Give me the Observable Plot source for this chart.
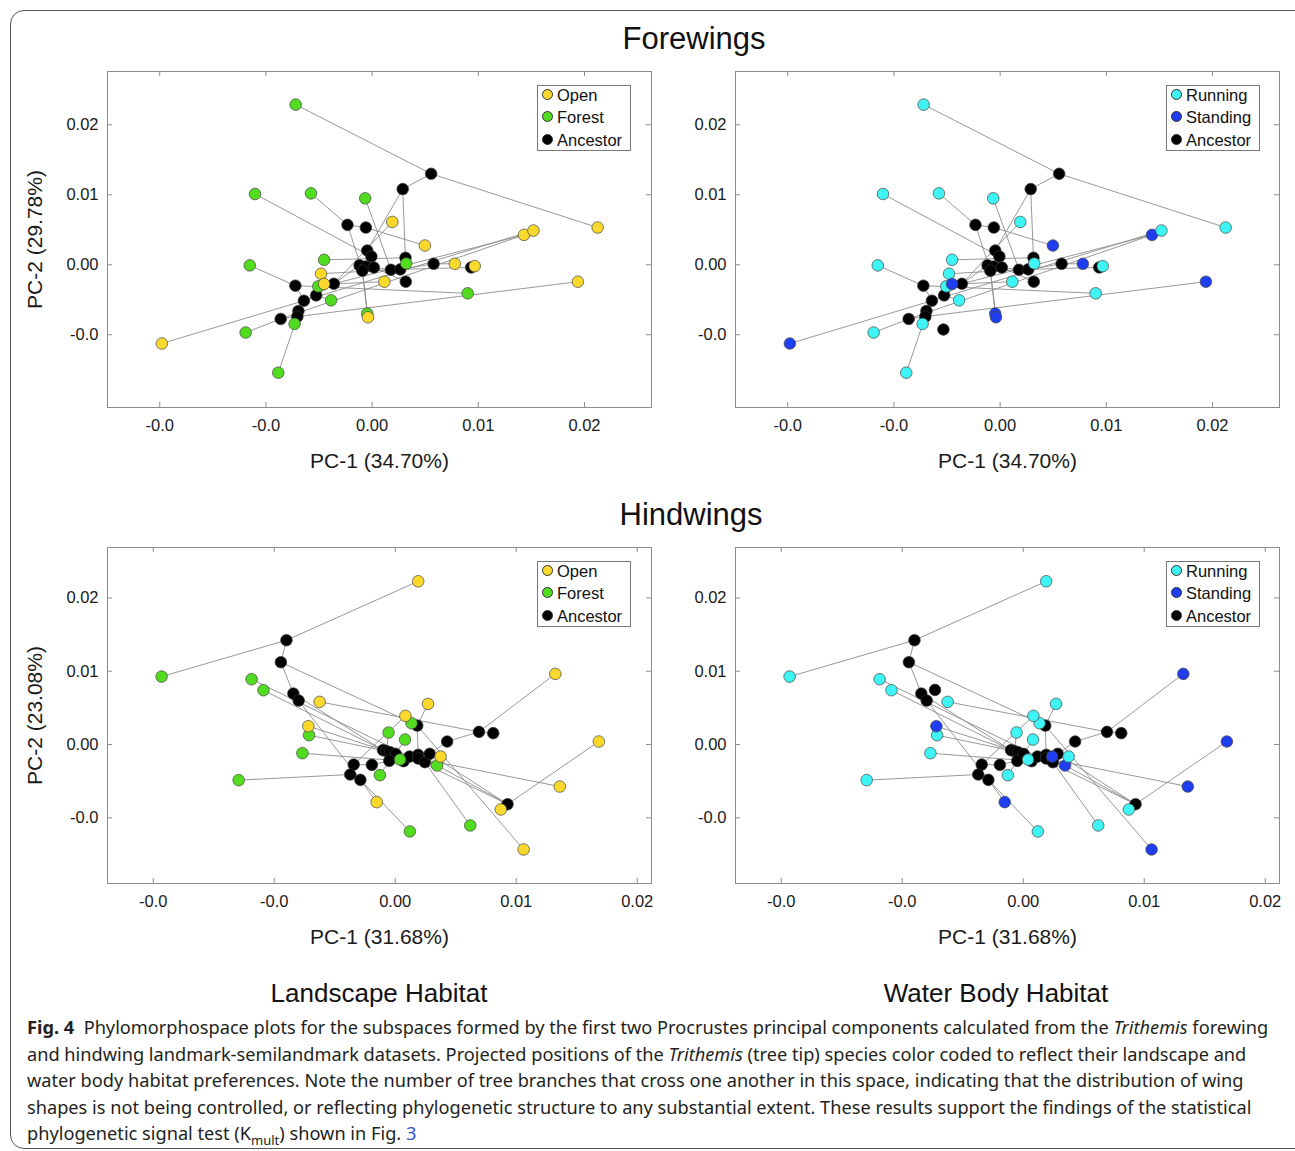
<!DOCTYPE html>
<html><head><meta charset="utf-8">
<script src="https://cdn.jsdelivr.net/npm/d3@7"></script>
<script src="https://cdn.jsdelivr.net/npm/@observablehq/plot@0.6"></script>
<style>
body{margin:0;background:#fff;width:1295px;height:1151px;position:relative;overflow:hidden;font-family:"Liberation Sans",Arial,sans-serif;color:#111}
#border{position:absolute;left:10px;top:10px;width:1310px;height:1139px;border:1px solid #555;border-radius:14px;box-sizing:border-box}
.t{position:absolute;white-space:nowrap;transform:translate(-50%,-50%);color:#111}
.pl{position:absolute}
.legend{position:absolute;border:1px solid #777;background:#fff;box-sizing:border-box;width:94px;height:66px;font-size:16.5px}
.legend .row{position:absolute;left:0;height:20px;line-height:20px;white-space:nowrap}
.legend .dot{position:absolute;left:4px;top:4px;width:11px;height:11px;border-radius:50%;border:0.8px solid #333;box-sizing:border-box}
.legend .lab{position:absolute;left:19px;top:0}
#caption{position:absolute;left:27px;top:1014px;font-family:"Noto Sans",sans-serif;font-size:18.2px;line-height:26.5px;white-space:nowrap;color:#231f20}
#caption a{color:#2f52d6;text-decoration:none}
</style></head><body>
<div id="border"></div>
<div class="t" style="left:694px;top:39px;font-size:31px">Forewings</div>
<div class="t" style="left:691px;top:515px;font-size:31px">Hindwings</div>
<div class="t" style="left:379px;top:993px;font-size:26px">Landscape Habitat</div>
<div class="t" style="left:996px;top:993px;font-size:26px">Water Body Habitat</div>
<div id="p1" class="pl" style="left:7px;top:61px"></div>
<div id="p2" class="pl" style="left:635px;top:61px"></div>
<div id="p3" class="pl" style="left:7px;top:537px"></div>
<div id="p4" class="pl" style="left:635px;top:537px"></div>
<div id="caption"><b>Fig. 4</b>&nbsp; Phylomorphospace plots for the subspaces formed by the first two Procrustes principal components calculated from the <i>Trithemis</i> forewing<br>and hindwing landmark-semilandmark datasets. Projected positions of the <i>Trithemis</i> (tree tip) species color coded to reflect their landscape and<br>water body habitat preferences. Note the number of tree branches that cross one another in this space, indicating that the distribution of wing<br>shapes is not being controlled, or reflecting phylogenetic structure to any substantial extent. These results support the findings of the statistical<br>phylogenetic signal test (K<sub style="font-size:13px">mult</sub>) shown in Fig. <a>3</a></div>
<script>
// ---------- data ----------
const xTicks = [-0.02, -0.01, 0, 0.01, 0.02];
const xTickLabels = ["-0.0", "-0.0", "0.00", "0.01", "0.02"];
const yTicks = [0.02, 0.01, 0, -0.01];
const yTickLabels = ["0.02", "0.01", "0.00", "-0.0"];

const landscapeCats = ["Open", "Forest", "Ancestor"];
const landscapeColors = ["#fbd82c", "#52dc1f", "#000000"];
const waterCats = ["Running", "Standing", "Ancestor"];
const waterColors = ["#3ff4f4", "#1f3ef0", "#000000"];

// Forewings: PC-1 (34.70%), PC-2 (29.78%)
const foreX = [-0.00720,-0.01103,-0.00576,-0.00065,-0.00452,-0.01152,-0.00507,-0.00386,0.00321,0.00900,-0.00046,-0.01191,-0.00730,-0.00884,
  0.02124,0.01430,0.01519,0.00190,0.00497,0.00779,0.00966,-0.00481,-0.00452,0.00115,0.01938,-0.00039,-0.01980,
  0.00556,0.00288,-0.00232,-0.00059,-0.00046,-0.00007,0.00314,0.00579,0.00933,-0.00118,-0.00059,0.00016,-0.00092,0.00177,0.00265,0.00317,-0.00360,-0.00723,-0.00527,-0.00642,-0.00694,-0.00704,-0.00861,
  -0.00534];
const foreY = [0.02288,0.01011,0.01020,0.00949,0.00071,-0.00009,-0.00308,-0.00508,0.00019,-0.00408,-0.00698,-0.00968,-0.00845,-0.01542,
  0.00532,0.00427,0.00489,0.00612,0.00275,0.00014,-0.00019,-0.00128,-0.00275,-0.00242,-0.00242,-0.00750,-0.01125,
  0.01300,0.01082,0.00570,0.00532,0.00204,0.00119,0.00100,0.00014,-0.00038,-0.00009,-0.00024,-0.00038,-0.00085,-0.00071,-0.00066,-0.00242,-0.00271,-0.00299,-0.00437,-0.00513,-0.00660,-0.00740,-0.00774,
  -0.00925];
const F = "Forest", O = "Open", A = "Ancestor", R = "Running", S = "Standing";
const foreLandscape = [F,F,F,F,F,F,F,F,F,F,F,F,F,F, O,O,O,O,O,O,O,O,O,O,O,O,O,
  A,A,A,A,A,A,A,A,A,A,A,A,A,A,A,A,A,A,A,A,A,A,A, null];
const foreWater = [R,R,R,R,R,R,R,R,R,R,S,R,R,R, R,S,R,R,S,S,R,R,S,R,S,S,S,
  A,A,A,A,A,A,A,A,A,A,A,A,A,A,A,A,A,A,A,A,A,A,A, A];
const foreEdges = [[0,27],[27,14],[27,28],[28,33],[28,31],[1,32],[2,29],[29,30],[29,39],[30,18],[3,40],[17,43],[4,33],[5,44],[44,9],
  [24,48],[26,46],[11,49],[13,48],[12,48],[49,15],[46,16],[43,15],[36,37],[37,38],[37,39],[38,40],[40,41],[41,34],[34,19],[35,20],
  [41,35],[39,25],[39,10],[42,38],[8,41],[21,40],[22,43],[6,45],[7,45],[23,43],[43,45],[45,46],[46,47],[47,48],[48,49],[44,46],
  [43,36],[31,32],[32,37]];

// Hindwings: PC-1 (31.68%), PC-2 (23.08%)
const hindX = [-0.01931,-0.01187,-0.01089,0.00135,-0.00055,0.00081,-0.00712,-0.00767,0.00040,0.00346,-0.00127,-0.01294,0.00121,0.00620,
  0.00190,0.01323,0.00271,-0.00625,0.00084,-0.00718,0.01683,0.00375,0.01360,0.00873,-0.00153,0.01061,
  -0.00899,-0.00945,-0.00842,-0.00798,0.00182,0.00692,0.00810,0.00429,0.00928,-0.00101,-0.00072,-0.00043,0.00003,0.00069,0.00118,0.00190,0.00190,0.00245,0.00285,-0.00049,-0.00343,-0.00193,-0.00372,-0.00288,
  -0.00729,0.00239];
const hindY = [0.00927,0.00891,0.00741,0.00291,0.00164,0.00068,0.00127,-0.00118,-0.00205,-0.00286,-0.00418,-0.00486,-0.01186,-0.01104,
  0.02227,0.00964,0.00554,0.00582,0.00391,0.00250,0.00041,-0.00164,-0.00573,-0.00886,-0.00786,-0.01432,
  0.01423,0.01123,0.00695,0.00600,0.00259,0.00173,0.00155,0.00041,-0.00814,-0.00077,-0.00091,-0.00105,-0.00127,-0.00227,-0.00164,-0.00141,-0.00191,-0.00241,-0.00127,-0.00223,-0.00273,-0.00277,-0.00409,-0.00482,
  0.00745,-0.00164];
const hindLandscape = [F,F,F,F,F,F,F,F,F,F,F,F,F,F, O,O,O,O,O,O,O,O,O,O,O,O,
  A,A,A,A,A,A,A,A,A,A,A,A,A,A,A,A,A,A,A,A,A,A,A,A, null,null];
const hindWater = [R,R,R,R,R,R,R,R,R,S,R,R,R,R, R,S,R,R,R,S,S,R,S,R,S,S,
  A,A,A,A,A,A,A,A,A,A,A,A,A,A,A,A,A,A,A,A,A,A,A,A, A,S];
const hindEdges = [[0,26],[26,14],[26,27],[27,28],[27,30],[28,29],[29,49],[49,12],[49,24],[1,34],[2,35],[17,31],[31,15],[31,32],
  [31,33],[33,44],[30,16],[30,3],[30,42],[46,18],[19,37],[6,36],[7,39],[11,48],[48,46],[46,47],[47,45],[10,45],[4,36],[5,38],
  [8,39],[9,43],[21,44],[20,34],[22,42],[23,34],[25,30],[13,43],[34,41],[34,44],[35,36],[36,37],[37,38],[38,40],[40,41],[41,44],
  [38,39],[40,42],[42,43],[45,37],[48,49],[28,35]];

const foreXDomain = [-0.02492, 0.02631], foreYDomain = [-0.02039, 0.02761];
const hindXDomain = [-0.02378, 0.02118], hindYDomain = [-0.01896, 0.02688];

// ---------- drawing ----------
const W = 544, H = 336, M = {top: 10, right: 12, bottom: 80, left: 100};
const gray = "#8c8c8c";

function panel({X, Y, cats, edges, xDomain, yDomain, cdom, crange, xLabel, yLabel}) {
  const pts = X.map((x, i) => ({x, y: Y[i], c: cats[i]})).filter(d => d.c != null);
  const anc = pts.filter(d => d.c === "Ancestor");
  const tips = pts.filter(d => d.c !== "Ancestor");
  const links = edges.map(([a, b]) => ({x1: X[a], y1: Y[a], x2: X[b], y2: Y[b]}));
  return Plot.plot({
    width: M.left + W + M.right, height: M.top + H + M.bottom,
    marginTop: M.top, marginRight: M.right, marginBottom: M.bottom, marginLeft: M.left,
    x: {domain: xDomain}, y: {domain: yDomain},
    color: {domain: cdom, range: crange},
    style: {fontFamily: "Liberation Sans, Arial, sans-serif", fontSize: "16.5px", color: "#1a1a1a", background: "transparent", overflow: "visible"},
    marks: [
      Plot.link(links, {x1: "x1", y1: "y1", x2: "x2", y2: "y2", stroke: gray, strokeWidth: 0.9}),
      Plot.dot(anc, {x: "x", y: "y", r: 5.8, fill: "c", stroke: "#333", strokeWidth: 0.7}),
      Plot.dot(tips, {x: "x", y: "y", r: 5.8, fill: "c", stroke: "#444", strokeWidth: 0.7}),
      Plot.frame({stroke: gray}),
      Plot.ruleX(xTicks, {x: d => d, insetTop: H - 5, stroke: gray}),
      Plot.ruleX(xTicks, {x: d => d, insetBottom: H - 5, stroke: gray}),
      Plot.ruleY(yTicks, {y: d => d, insetRight: W - 5, stroke: gray}),
      Plot.ruleY(yTicks, {y: d => d, insetLeft: W - 5, stroke: gray}),
      Plot.axisX(xTicks, {tickSize: 0, tickPadding: 12, tickFormat: d => xTickLabels[xTicks.indexOf(d)], label: null}),
      Plot.axisY(yTicks, {tickSize: 0, tickPadding: 9, tickFormat: d => yTickLabels[yTicks.indexOf(d)], label: null}),
      Plot.text([xLabel], {text: d => d, frameAnchor: "bottom", dy: 54, lineAnchor: "middle", fontSize: 21}),
      yLabel ? Plot.text([yLabel], {text: d => d, frameAnchor: "left", dx: -72, rotate: -90, textAnchor: "middle", lineAnchor: "middle", fontSize: 21}) : null
    ]
  });
}

function legend(cats, colors, left, top) {
  const el = document.createElement("div");
  el.className = "legend";
  el.style.left = left + "px"; el.style.top = top + "px";
  cats.forEach((c, i) => {
    const row = document.createElement("div");
    row.className = "row";
    row.style.top = (-1 + i * 22.3) + "px";
    row.innerHTML = `<span class="dot" style="background:${colors[i]}"></span><span class="lab">${c}</span>`;
    el.appendChild(row);
  });
  document.body.appendChild(el);
}

document.getElementById("p1").appendChild(panel({X: foreX, Y: foreY, cats: foreLandscape, edges: foreEdges, xDomain: foreXDomain, yDomain: foreYDomain, cdom: landscapeCats, crange: landscapeColors, xLabel: "PC-1 (34.70%)", yLabel: "PC-2 (29.78%)"}));
document.getElementById("p2").appendChild(panel({X: foreX, Y: foreY, cats: foreWater, edges: foreEdges, xDomain: foreXDomain, yDomain: foreYDomain, cdom: waterCats, crange: waterColors, xLabel: "PC-1 (34.70%)", yLabel: null}));
document.getElementById("p3").appendChild(panel({X: hindX, Y: hindY, cats: hindLandscape, edges: hindEdges, xDomain: hindXDomain, yDomain: hindYDomain, cdom: landscapeCats, crange: landscapeColors, xLabel: "PC-1 (31.68%)", yLabel: "PC-2 (23.08%)"}));
document.getElementById("p4").appendChild(panel({X: hindX, Y: hindY, cats: hindWater, edges: hindEdges, xDomain: hindXDomain, yDomain: hindYDomain, cdom: waterCats, crange: waterColors, xLabel: "PC-1 (31.68%)", yLabel: null}));

legend(landscapeCats, landscapeColors, 537, 85);
legend(waterCats, waterColors, 1166, 85);
legend(landscapeCats, landscapeColors, 537, 561);
legend(waterCats, waterColors, 1166, 561);
</script>
</body></html>
